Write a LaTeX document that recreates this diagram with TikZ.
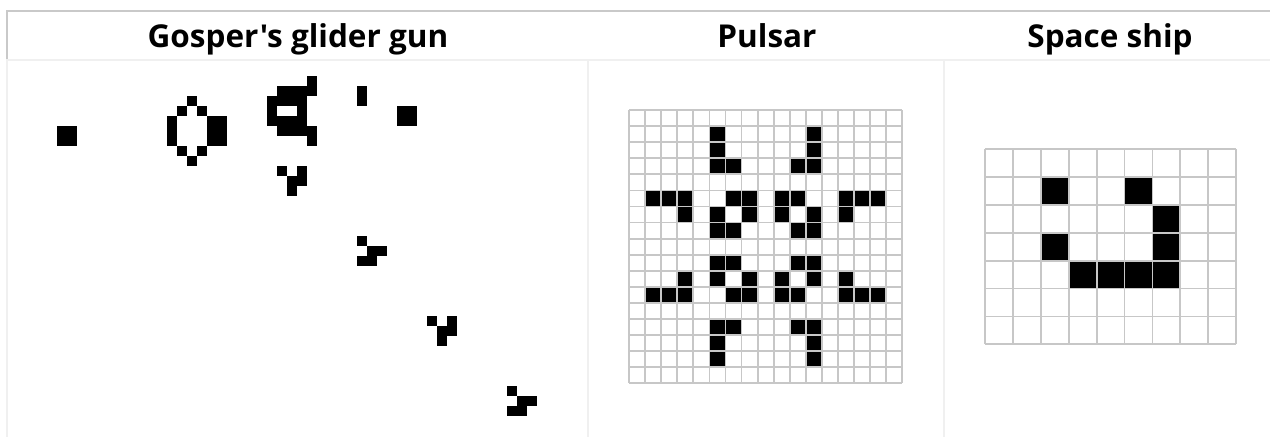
\documentclass[tikz,border=0pt]{standalone}
\usepackage{fontspec}
\newfontfamily\hfont{Open Sans}
\begin{document}
\begin{tikzpicture}[x=1pt,y=-1pt,
  hdr/.style={font=\hfont\fontsize{31.5}{36}\selectfont\bfseries, anchor=base, inner sep=0pt},
  topline/.style={draw=black!21, line width=2pt},
  sepline/.style={draw=black!6, line width=2pt},
  gridline/.style={draw=black!22, line width=1.8pt},
  live/.style={fill=black}]
\useasboundingbox (0,0) rectangle (1270,437);
\fill[white] (0,0) rectangle (1270,437);
% table borders
\draw[sepline] (6,60) -- (1270,60);
\draw[sepline] (7,60) -- (7,437);
\draw[sepline] (588,61) -- (588,437);
\draw[sepline] (944,61) -- (944,437);
\draw[topline] (6,11) -- (1270,11);
\draw[topline] (7,10) -- (7,59);
% headers
\node[hdr] (hgun) at (298,47) {Gosper's glider gun};
\node[hdr] (hpulsar) at (767,47) {Pulsar};
\node[hdr] (hship) at (1110,47) {Space ship};
% Gosper glider gun (cell 10, origin 57.3,76)
\foreach \c/\r in {0/5,1/5,0/6,1/6,
  13/2,12/3,14/3,11/4,11/5,11/6,15/4,16/4,15/5,16/5,15/6,16/6,12/7,14/7,13/8,
  25/0,22/1,23/1,24/1,25/1,21/2,22/2,23/2,24/2,21/3,24/3,21/4,22/4,23/4,24/4,22/5,23/5,24/5,25/5,25/6,
  30/1,30/2,34/3,35/3,34/4,35/4,
  22/9,24/9,23/10,24/10,23/11,
  30/16,31/17,32/17,30/18,31/18,
  37/24,39/24,38/25,39/25,38/26,
  45/31,46/32,47/32,45/33,46/33}
  \fill[live] (57.3+10*\c,76+10*\r) rectangle ++(10,10);
% Pulsar (17x17, origin 629,110)
\foreach \r/\c in {1/5,1/11,2/5,2/11,3/5,3/6,3/10,3/11,
  5/1,5/2,5/3,5/6,5/7,5/9,5/10,5/13,5/14,5/15,
  6/3,6/5,6/7,6/9,6/11,6/13,
  7/5,7/6,7/10,7/11,
  9/5,9/6,9/10,9/11,
  10/3,10/5,10/7,10/9,10/11,10/13,
  11/1,11/2,11/3,11/6,11/7,11/9,11/10,11/13,11/14,11/15,
  13/5,13/6,13/10,13/11,14/5,14/11,15/5,15/11}
  \fill[live] (629+16.08*\c,110+16.08*\r) rectangle ++(16.08,16.08);
\foreach \i in {0,...,17} {
  \draw[gridline] (629+16.08*\i,110) -- (629+16.08*\i,383.36);
  \draw[gridline] (629,110+16.08*\i) -- (902.36,110+16.08*\i);
}
% Space ship (9x7, origin 985,149)
\foreach \c/\r in {2/1,5/1,6/2,2/3,6/3,3/4,4/4,5/4,6/4}
  \fill[live] (985+27.9*\c,149+27.9*\r) rectangle ++(27.9,27.9);
\foreach \i in {0,...,9}
  \draw[gridline] (985+27.9*\i,149) -- (985+27.9*\i,344.3);
\foreach \j in {0,...,7}
  \draw[gridline] (985,149+27.9*\j) -- (1236.1,149+27.9*\j);
\end{tikzpicture}
\end{document}
